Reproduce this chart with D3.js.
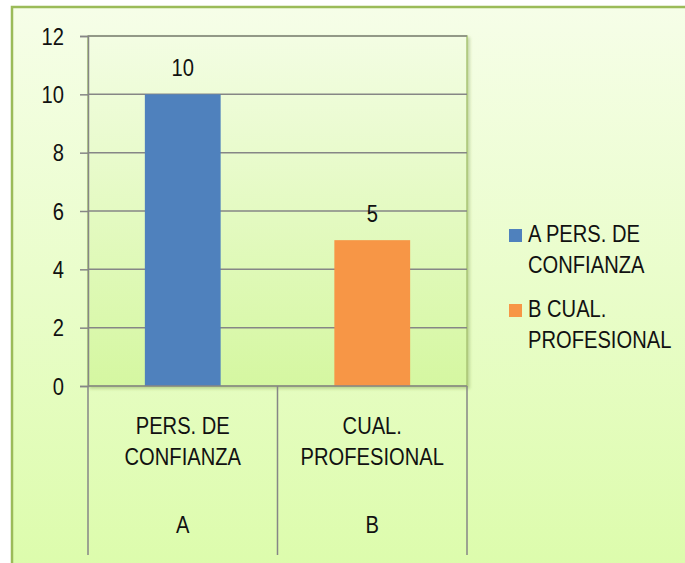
<!DOCTYPE html>
<html><head><meta charset="utf-8">
<script src="https://cdn.jsdelivr.net/npm/d3@7"></script>
<style>
html,body{margin:0;padding:0;background:#fff;}
text{font-family:"Liberation Sans",Arial,sans-serif;fill:#111;}
</style></head><body>
<svg id="c" width="685" height="563"></svg>
<script>
const categories = ["A","B"];
const categoryLines = [["PERS. DE","CONFIANZA"],["CUAL.","PROFESIONAL"]];
const values = [10,5];
const seriesNames = [["A PERS. DE","CONFIANZA"],["B CUAL.","PROFESIONAL"]];
const colors = ["#4f81bd","#f79646"];
const yTicks = [0,2,4,6,8,10,12];

const FS = 24, SX = 0.84;
const svg = d3.select("#c");
function txt(parent, x, y, s, anchor){
  return parent.append("text")
    .attr("transform",`translate(${x},${y}) scale(${SX},1)`)
    .attr("text-anchor",anchor||"start").attr("font-size",FS).text(s);
}

const defs = svg.append("defs");
const g1 = defs.append("linearGradient").attr("id","bgOuter").attr("x1",0).attr("y1",0).attr("x2",0).attr("y2",1);
g1.append("stop").attr("offset","0%").attr("stop-color","#f6fee8");
g1.append("stop").attr("offset","100%").attr("stop-color","#dcfcab");
const g2 = defs.append("linearGradient").attr("id","bgPlot").attr("x1",0).attr("y1",0).attr("x2",0).attr("y2",1);
g2.append("stop").attr("offset","0%").attr("stop-color","#f3fde3");
g2.append("stop").attr("offset","100%").attr("stop-color","#d5f7a1");
const flt = defs.append("filter").attr("id","sh").attr("x","-5%").attr("y","-5%").attr("width","115%").attr("height","115%");
flt.append("feDropShadow").attr("dx",2).attr("dy",2).attr("stdDeviation",1.5).attr("flood-color","#6a8a30").attr("flood-opacity",0.35);

// outer frame
svg.append("rect").attr("x",12).attr("y",7).attr("width",680).attr("height",570)
  .attr("fill","url(#bgOuter)").attr("stroke","#9bbb59").attr("stroke-width",2.5);

const L=88, R=467, T=36, B=386;
const x = d3.scaleBand().domain(categories).range([L,R]).paddingInner(0).paddingOuter(0);
const y = d3.scaleLinear().domain([0,12]).range([B,T]);

// plot area
svg.append("rect").attr("x",L).attr("y",T).attr("width",R-L).attr("height",B-T)
  .attr("fill","url(#bgPlot)").attr("stroke","#a9c574").attr("stroke-width",1.5).attr("filter","url(#sh)");

// gridlines
svg.append("g").selectAll("line").data(yTicks.filter(d=>d>0)).join("line")
  .attr("x1",L).attr("x2",R).attr("y1",d=>y(d)).attr("y2",d=>y(d))
  .attr("stroke","#868686").attr("stroke-width",1.5);

// bars
const bw = x.bandwidth()*0.4;
svg.append("g").selectAll("rect").data(values).join("rect")
  .attr("x",(d,i)=>x(categories[i])+x.bandwidth()/2-bw/2)
  .attr("y",d=>y(d)).attr("width",bw).attr("height",d=>B-y(d))
  .attr("fill",(d,i)=>colors[i]);

// data labels
const dl = svg.append("g");
values.forEach((d,i)=>txt(dl, x(categories[i])+x.bandwidth()/2, y(d)-18, d, "middle"));

// y axis
const ya = svg.append("g").attr("transform",`translate(${L},0)`)
  .call(d3.axisLeft(y).tickValues(yTicks).tickSize(8).tickFormat(""));
ya.select(".domain").attr("stroke","#868686").attr("stroke-width",1.5);
ya.selectAll(".tick line").attr("stroke","#868686").attr("stroke-width",1.5);
const yl = svg.append("g");
yTicks.forEach(t=>txt(yl, 64, y(t)+8.5, t, "end"));

// x axis lines (multi-level)
svg.append("line").attr("x1",L).attr("x2",R).attr("y1",B).attr("y2",B).attr("stroke","#868686").attr("stroke-width",1.5);
const bounds = categories.map(c=>x(c)).concat([R]);
svg.append("g").selectAll("line").data(bounds).join("line")
  .attr("x1",d=>d).attr("x2",d=>d).attr("y1",B).attr("y2",555)
  .attr("stroke","#868686").attr("stroke-width",1.5);

// category labels
const cl = svg.append("g");
categories.forEach((c,i)=>{
  const cx = x(c)+x.bandwidth()/2;
  categoryLines[i].forEach((ln,j)=>txt(cl, cx, 434+j*31, ln, "middle"));
  txt(cl, cx, 533, c, "middle");
});

// legend
const lg = svg.append("g");
seriesNames.forEach((s,i)=>{
  const y0 = 242 + i*75;
  lg.append("rect").attr("x",509).attr("y",y0-13).attr("width",13).attr("height",13).attr("fill",colors[i]);
  s.forEach((ln,j)=>txt(lg, 528, y0+j*31, ln, "start"));
});
</script></body></html>
